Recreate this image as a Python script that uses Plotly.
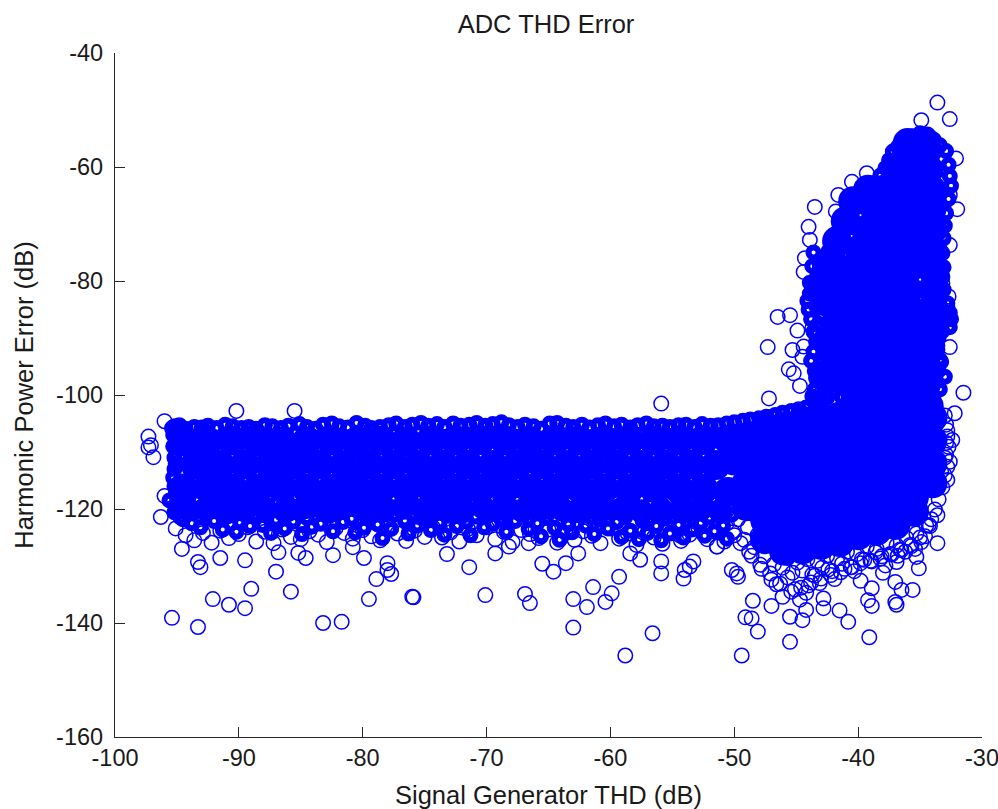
import plotly.graph_objects as go

# Values. The solid mass holds thousands of overlapping
# circles that cannot be told apart, so "solid"/"lower" (filled discs) and
# "crowd" (heavy rings) stand in for it; every circle that can be seen
# individually is in the thin "open" lists.
x_ticks = [-100, -90, -80, -70, -60, -50, -40, -30]
x_labels = ["-100", "-90", "-80", "-70", "-60", "-50", "-40", "-30"]
y_ticks = [-40, -60, -80, -100, -120, -140, -160]
y_labels = ["-40", "-60", "-80", "-100", "-120", "-140", "-160"]

# isolated circles
outlier_x = [-97.3,-97.1,-97.3,-96.9,-96.0,-90.2,-85.5,-96.3,-96.0,-94.6,-93.3,-93.1,-91.5,-89.5,-86.8,-87.0,-85.8,-89.0,-92.1,-90.8,-89.5,-95.4,-93.3,-83.2,-81.7,-79.5,-76.0,-78.9,-77.7,-78.0,-78.0,-82.4,-84.6,-85.2,-80.8,-79.9,
 -55.9,-75.9,-73.2,-71.4,-70.1,-69.3,-68.2,-66.6,-66.9,-66.5,-65.5,-64.6,-63.6,-63.0,-63.0,-61.9,-61.4,-60.4,-59.9,-59.3,-58.8,-56.6,-55.9,-55.9,-54.1,-54.0,-53.3,-53.6,-50.2,-58.4,-57.6,-62.6,-51.4,-54.4,
 -49.4,-45.5,-39.1,-48.1,-49.1,-48.6,-48.5,-49.8,-49.7,-51.4,-47.0,-45.5,-44.5,-44.2,-44.2,-42.8,-42.8,-41.5,-40.8,-39.8,-38.9,-39.2,-38.9,-38.0,-37.0,-37.0,-36.9,-35.6,-36.5,-35.1,-35.3,-36.8,-33.6,-33.6,-34.3,-32.2,-32.4,-32.6,-32.8,
 -33.6,-32.6,-34.9,-31.5,-32.6,-32.6,-32.0,-32.1,-32.6,-43.5,-41.6,-40.5,-39.3,-41.8,-44.0,-43.9,-44.3,-44.4,-46.5,-45.5,-44.9,-43.7,-47.3,-45.3,-44.4,-45.6,-45.2,-44.7,-47.2,-44.5,-32.8,-32.7,-33.2]
outlier_y = [-107.3,-108.8,-109.2,-110.9,-104.6,-102.8,-102.8,-121.4,-117.7,-127.0,-129.3,-130.2,-128.6,-129.0,-127.6,-131.0,-134.5,-134.0,-135.8,-136.8,-137.4,-139.1,-140.7,-140.0,-139.8,-135.8,-135.4,-132.3,-131.4,-129.5,-130.7,-128.1,-128.6,-127.7,-126.7,-128.6,
 -101.5,-135.5,-127.9,-130.2,-135.1,-127.8,-126.6,-126.0,-134.9,-136.5,-129.6,-131.0,-129.5,-135.8,-140.8,-137.2,-133.7,-136.3,-134.8,-131.9,-145.7,-141.8,-131.3,-129.2,-132.2,-130.7,-129.2,-130.1,-130.7,-127.8,-128.9,-127.8,-126.6,-124.6,
 -145.7,-143.3,-142.5,-141.5,-139.0,-139.2,-136.1,-131.3,-131.9,-126.6,-137.0,-138.9,-139.5,-137.7,-134.7,-135.7,-137.4,-137.8,-139.8,-132.6,-133.9,-136.0,-137.0,-131.2,-132.8,-136.3,-136.8,-134.2,-134.2,-130.4,-128.4,-128.2,-126.0,-121.1,-122.8,-103.2,-107.9,-111.7,-114.9,
 -48.7,-51.6,-51.8,-99.6,-91.6,-73.7,-67.4,-58.5,-64.9,-67.0,-64.9,-62.6,-61.1,-67.8,-70.5,-72.8,-76.0,-78.4,-86.3,-86.0,-88.7,-88.3,-91.6,-92.1,-91.5,-95.5,-96.2,-98.4,-100.6,-93.3,-84.5,-82.7,-80.4]

# thin circles along the bottom of the band
low_ring_x = [-95.1,-94.3,-93.6,-92.9,-92.2,-91.5,-90.8,-90.0,-89.3,-88.6,-87.9,-87.2,-86.5,-85.8,-85.0,-84.3,-83.6,-82.9,-82.2,-81.5,-80.8,-80.0,-79.3,-78.6,-77.9,-77.2,-76.5,-75.8,-75.0,-74.3,-73.6,-72.9,-72.2,-71.5,-70.8,-70.0,-69.3,-68.6,-67.9,-67.2,-66.5,-65.8,-65.0,-64.3,-63.6,-62.9,-62.2,-61.5,-60.8,-60.0,-59.3,-58.6,-57.9,-57.2,-56.5,-55.8,-55.0,-54.3,-53.6,-52.9,-52.2,-51.5,-50.8,-50.0]
low_ring_y = [-123.4,-124.6,-125.5,-124.2,-125.9,-123.8,-125.1,-124.4,-123.2,-125.7,-124.0,-126.0,-123.6,-124.9,-125.3,-123.9,-124.5,-125.8,-123.4,-124.2,-125.2,-123.7,-124.8,-125.5,-123.1,-124.3,-125.6,-123.8,-124.9,-123.3,-125.0,-124.1,-125.7,-123.5,-124.6,-123.2,-125.3,-124.0,-125.8,-123.7,-124.4,-125.1,-123.6,-125.9,-124.2,-125.4,-123.9,-124.7,-126.0,-123.4,-125.2,-124.3,-126.3,-123.8,-125.0,-126.1,-124.1,-125.6,-124.5,-123.3,-125.3,-124.0,-125.7,-124.6]

# thin circles along the lower right of the mass
edge_x = [-50.6,-50.1,-49.7,-49.2,-48.9,-48.4,-48.1,-47.6,-47.3,-46.8,-46.5,-46.1,-45.7,-45.3,-44.9,-44.5,-44.1,-43.7,-43.3,-42.9,-42.5,-42.1,-41.7,-41.3,-40.9,-40.5,-40.1,-39.7,-39.3,-38.9,-38.5,-38.1,-37.7,-37.3,-36.9,-36.5,-36.1,-35.7,-35.3,-34.9,-34.5,-34.1,-33.8,-33.5,-33.2,-33.0,-32.8,-32.9,-32.7,-32.8,-32.9,-33.0,-32.8,-32.9,-33.0,-33.3,
 -48.6,-47.8,-47.0,-46.3,-45.4,-44.6,-43.8,-43.0,-42.2,-41.4,-40.6,-39.8,-39.0,-38.2,-37.4,-36.6,-35.8,-35.0,-34.2,
 -49.5,-48.8,-47.9,-47.1,-46.6,-46.1,-45.7,-45.1,-44.7,-44.0,-43.5,-43.1,-42.4,-41.9,-41.1,-40.3,-39.5,-38.6,-37.8,-36.9,-36.2,-35.4,-34.6]
edge_y = [-122.5,-124.1,-121.8,-125.4,-123.2,-126.7,-124.5,-128.3,-125.9,-129.7,-127.2,-130.3,-128.6,-131.2,-129.4,-130.8,-128.8,-131.5,-129.1,-130.3,-128.2,-130.9,-128.7,-129.6,-127.5,-130.2,-127.9,-128.8,-126.6,-129.2,-127.0,-128.3,-125.9,-128.0,-126.4,-127.2,-125.1,-126.5,-124.3,-125.8,-122.9,-121.8,-120.1,-118.3,-116.2,-114.1,-112.6,-110.5,-109.1,-107.3,-105.2,-103.6,-106.2,-108.4,-111.0,-113.4,
 -128.2,-130.5,-132.4,-133.1,-134.5,-133.8,-132.9,-132.2,-131.6,-131.1,-130.2,-129.5,-129.1,-128.7,-127.9,-127.1,-126.3,-125.0,-123.0,
 -126.0,-127.5,-129.8,-131.3,-133.2,-135.4,-132.0,-134.1,-135.9,-133.4,-131.7,-133.0,-130.6,-132.3,-130.5,-130.9,-128.9,-127.6,-129.9,-129.3,-127.5,-127.0,-124.8]

# crowded edge zones: top of band, left end, speckled lower band, upper mass
crowd_top_x = [-95.4,-94.8,-94.3,-93.6,-93.0,-92.5,-91.8,-91.1,-90.5,-89.8,-89.2,-88.6,-87.9,-87.3,-86.6,-86.0,-85.1,-84.5,-83.8,-83.2,-82.5,-81.9,-81.2,-80.5,-79.8,-79.3,-78.6,-77.9,-77.3,-76.6,-76.0,-75.3,-74.7,-74.0,-73.4,-72.7,-72.1,-71.4,-70.8,-70.1,-69.5,-68.8,-68.2,-67.5,-66.9,-66.2,-65.6,-64.9,-64.3,-63.6,-63.0,-62.3,-61.7,-61.0,-60.4,-59.7,-59.1,-58.4,-57.8,-57.1,-56.5,-55.8,-55.2,-54.5,-53.9,-53.2,-52.6,-51.9,-51.3,-50.6,-50.0,-49.3,-48.7,-48.0,-47.4,-46.7,-46.1,-45.4,-44.8,-44.2]
crowd_top_y = [-105.8,-105.3,-105.9,-105.6,-105.7,-105.4,-105.8,-105.2,-105.5,-105.8,-105.6,-105.9,-105.3,-105.5,-105.8,-105.4,-105.1,-105.6,-105.9,-105.2,-105.0,-105.5,-105.7,-104.9,-105.4,-105.8,-105.6,-105.3,-105.0,-105.6,-105.2,-104.9,-105.4,-105.1,-105.6,-105.0,-105.4,-105.2,-104.9,-105.4,-105.1,-104.8,-105.3,-105.6,-105.2,-105.5,-105.9,-105.0,-104.9,-105.4,-105.6,-105.2,-105.7,-105.3,-105.0,-105.5,-105.2,-105.7,-105.3,-105.0,-105.5,-105.4,-105.6,-105.3,-105.2,-105.6,-105.1,-105.4,-105.3,-105.0,-104.8,-104.5,-104.3,-104.1,-103.8,-103.5,-103.1,-102.8,-102.5,-102.2]
crowd_left_x = [-95.3,-95.3,-95.2,-95.2,-95.3,-95.2,-95.1,-95.2,-95.0,-95.1,-94.9,-94.7,-95.1,-94.6]
crowd_left_y = [-107.0,-109.0,-111.0,-113.0,-114.5,-116.0,-117.5,-105.5,-119.0,-120.2,-118.3,-121.5,-112.0,-120.4]
crowd_low_x = [-95.6,-95.2,-94.9,-94.5,-94.1,-93.8,-93.4,-93.1,-92.7,-92.4,-92.0,-91.6,-91.3,-90.9,-90.6,-90.2,-89.9,-89.5,-89.1,-88.8,-88.4,-88.1,-87.7,-87.4,-87.0,-86.6,-86.3,-85.9,-85.6,-85.2,-84.9,-84.5,-84.1,-83.8,-83.4,-83.1,-82.7,-82.4,-82.0,-81.6,-81.3,-80.9,-80.6,-80.2,-79.9,-79.5,-79.1,-78.8,-78.4,-78.1,-77.7,-77.4,-77.0,-76.6,-76.3,-75.9,-75.6,-75.2,-74.9,-74.5,-74.1,-73.8,-73.4,-73.1,-72.7,-72.4,-72.0,-71.6,-71.3,-70.9,-70.6,-70.2,-69.9,-69.5,-69.1,-68.8,-68.4,-68.1,-67.7,-67.4,-67.0,-66.6,-66.3,-65.9,-65.6,-65.2,-64.9,-64.5,-64.1,-63.8,-63.4,-63.1,-62.7,-62.4,-62.0,-61.6,-61.3,-60.9,-60.6,-60.2,-59.9,-59.5,-59.1,-58.8,-58.4,-58.1,-57.7,-57.4,-57.0,-56.6,-56.3,-55.9,-55.6,-55.2,-54.9,-54.5,-54.1,-53.8,-53.4,-53.1,-52.7,-52.4,-52.0,-51.6,-51.3,-50.9,-50.6,-50.2,
 -94.7,-93.3,-91.9,-90.4,-89.0,-87.6,-86.1,-84.7,-83.3,-81.8,-80.4,-79.0,-77.5,-76.1,-74.7,-73.2,-71.8,-70.4,-68.9,-67.5,-66.1,-64.6,-63.2,-61.8,-60.3,-58.9,-57.5,-56.0,-54.6,-53.2,-51.7]
crowd_low_y = [-118.5,-120.6,-119.2,-121.8,-119.9,-122.5,-120.3,-123.2,-120.9,-119.6,-122.1,-120.2,-123.6,-121.3,-119.4,-124.0,-122.4,-120.1,-123.0,-121.1,-119.7,-122.8,-120.6,-124.2,-121.9,-119.9,-123.4,-120.8,-122.2,-119.5,-124.4,-121.6,-123.1,-120.0,-122.6,-119.8,-121.2,-123.9,-120.4,-122.3,-119.6,-121.7,-124.1,-120.7,-123.3,-121.4,-119.9,-122.7,-125.1,-120.5,-123.5,-121.0,-119.7,-122.0,-124.3,-120.9,-122.9,-119.5,-121.5,-123.7,-120.3,-122.4,-124.5,-121.2,-119.8,-123.0,-120.6,-122.2,-124.6,-121.3,-119.9,-123.2,-120.8,-122.6,-119.6,-121.8,-124.0,-120.2,-122.1,-119.7,-121.0,-123.5,-120.4,-122.5,-124.8,-121.6,-119.8,-123.3,-125.4,-120.9,-122.7,-124.1,-121.1,-119.6,-122.9,-120.5,-124.4,-121.9,-119.9,-123.4,-120.7,-122.3,-124.9,-121.4,-123.8,-120.1,-125.3,-122.1,-124.2,-120.6,-123.0,-125.5,-121.7,-124.3,-120.3,-122.8,-125.0,-121.2,-123.6,-120.8,-122.4,-124.7,-121.5,-123.9,-120.2,-122.9,-125.2,-121.0,
 -117.9,-118.4,-118.1,-118.6,-118.2,-118.0,-118.5,-118.3,-117.9,-118.6,-118.1,-118.4,-118.0,-118.5,-118.2,-117.9,-118.6,-118.3,-118.1,-118.4,-118.0,-118.5,-118.2,-117.9,-118.6,-118.3,-118.1,-118.4,-118.0,-118.5,-118.2]
crowd_upper_x = [-35.6,-35.0,-34.4,-33.9,-33.4,-36.3,-36.8,-37.2,-37.5,-37.8,-38.2,-38.6,-39.0,-39.6,-40.0,-40.3,-40.7,-41.1,-41.4,-41.7,-42.0,-42.4,-42.8,-43.1,-43.3,-43.6,-43.9,-44.1,-44.0,-43.8,-43.6,-43.4,-43.6,-43.8,-43.5,-43.3,-43.5,-43.7,-43.4,-43.2,-43.0,-42.8,-43.2,-43.0,-42.7,-42.4,-42.1,-41.9,-42.3,-42.0,-41.8,-41.5,-41.3,-41.6,-41.2,-40.9,-41.1,-40.7,-40.4,-42.6,-42.2,-41.7,-41.4,-41.0,-40.6,-40.3,-40.8,-40.2,-39.9,-39.6,-39.3,-40.5,-40.1,-39.7,-39.4,
 -32.9,-32.7,-32.6,-32.5,-32.7,-32.9,-33.0,-33.1,-33.2,-33.1,-33.2,-33.1,-33.4,-33.2,-32.8,-32.6,-32.5,-32.6,-32.9,-33.3,-33.5,-33.6,-33.4,-33.5,-33.7,-33.4,-33.2,-33.6,-33.3,-33.0,
 -43.9,-43.5,-43.2,-43.7,-43.3,-43.0,-42.8,-43.6,-43.1,-42.9,-42.6,-43.4,-42.9,-42.5,-42.2,-43.0,-42.4,-42.0,-41.7,-41.5,-43.4,-42.7,-42.3,-41.9,-43.5,-43.1,-42.5,-42.0]
crowd_upper_y = [-54.6,-54.1,-54.3,-55.2,-56.2,-56.0,-56.5,-57.3,-58.8,-60.2,-61.5,-62.8,-63.9,-64.7,-66.0,-66.8,-68.0,-69.4,-70.6,-71.7,-73.2,-74.8,-76.2,-77.7,-79.3,-80.8,-82.2,-83.5,-85.0,-86.7,-88.9,-90.6,-92.4,-94.0,-95.8,-97.5,-99.0,-100.2,-84.4,-87.5,-90.1,-92.8,-95.3,-97.9,-99.6,-82.9,-85.8,-88.2,-91.0,-93.6,-96.4,-98.6,-100.4,-79.5,-81.6,-83.3,-87.0,-89.4,-91.7,-76.6,-78.3,-74.1,-76.9,-79.8,-72.2,-74.4,-85.4,-87.9,-90.6,-93.2,-95.6,-94.4,-97.0,-99.0,-100.6,
 -57.2,-59.6,-61.6,-63.3,-65.6,-68.1,-70.3,-72.5,-75.1,-77.6,-79.3,-81.5,-83.2,-85.0,-83.9,-85.6,-86.7,-88.1,-86.0,-87.9,-89.9,-92.0,-93.8,-95.7,-97.6,-99.0,-88.8,-91.3,-94.2,-96.8,
 -80.3,-81.9,-84.1,-77.4,-79.6,-82.0,-84.6,-75.0,-77.1,-79.0,-81.3,-89.2,-91.6,-93.4,-95.2,-86.4,-88.7,-90.8,-93.0,-95.0,-97.0,-98.3,-96.0,-94.2,-100.9,-101.2,-100.5,-99.2]

# stand-in discs for the solid interior
solid_x = [-94.5,-92.5,-90.5,-88.5,-86.5,-84.5,-82.5,-80.5,-78.5,-76.5,-74.5,-72.5,-70.5,-68.5,-66.5,-64.5,-62.5,-60.5,-58.5,-56.5,-54.5,-52.5,-50.5,
 -93.5,-91.5,-89.5,-87.5,-85.5,-83.5,-81.5,-79.5,-77.5,-75.5,-73.5,-71.5,-69.5,-67.5,-65.5,-63.5,-61.5,-59.5,-57.5,-55.5,-53.5,-51.5,-50.0,
 -94.5,-92.5,-90.5,-88.5,-86.5,-84.5,-82.5,-80.5,-78.5,-76.5,-74.5,-72.5,-70.5,-68.5,-66.5,-64.5,-62.5,-60.5,-58.5,-56.5,-54.5,-52.5,-50.5,
 -49.0,-49.0,-49.0,-49.0,
 -47.5,-47.5,-47.5,-47.5,-47.5,-47.5,
 -46.0,-46.0,-46.0,-46.0,-46.0,-46.0,-46.0,
 -44.5,-44.5,-44.5,-44.5,-44.5,-44.5,-44.5,
 -43.0,-43.0,-43.0,-43.0,-43.0,-43.0,-43.0,
 -41.5,-41.5,-41.5,-41.5,-41.5,-41.5,-41.5,
 -40.0,-40.0,-40.0,-40.0,-40.0,-40.0,-40.0,
 -38.5,-38.5,-38.5,-38.5,-38.5,-38.5,-38.5,
 -37.0,-37.0,-37.0,-37.0,-37.0,-37.0,-37.0,
 -35.5,-35.5,-35.5,-35.5,-35.5,-35.5,
 -34.0,-34.0,-34.0,-34.0,
 -35.6,-34.4,-37.0,-35.7,-34.3,-37.9,-36.6,-35.3,-34.1,-38.6,-37.2,-35.8,-34.1,-39.3,-38.0,-36.6,-35.3,-34.0,-39.9,-38.5,-37.1,-35.7,-34.0,-40.4,-38.8,-37.4,-36.0,-34.0,-40.4,-38.8,-37.4,-36.0,-34.0,-40.2,-38.6,-37.2,-35.8,-34.0,-40.2,-38.6,-37.2,-35.6,-34.3,-40.2,-38.6,-37.2,-35.8,-34.5,-40.2,-38.6,-37.2,-35.8,-34.5,-40.2,-38.6,-37.2,-35.8,-34.5,-40.2,-38.6,-37.2,-35.8,-34.5,-40.2,-38.6,-37.0,-35.6,-34.3,
 -41.8,-41.8,-41.8,-41.8,-42.0,-42.0,-41.7,-41.0,-40.4,-39.2,-36.0,-34.5]
solid_y = [-108.1,-108.2,-108.0,-108.1,-108.2,-108.1,-108.0,-108.2,-108.0,-108.1,-108.0,-108.0,-107.9,-108.0,-108.1,-108.0,-108.0,-108.1,-108.0,-108.0,-108.0,-107.9,-107.8,
 -112.2,-112.3,-112.2,-112.3,-112.2,-112.2,-112.3,-112.2,-112.2,-112.3,-112.2,-112.2,-112.3,-112.2,-112.2,-112.3,-112.2,-112.2,-112.3,-112.2,-112.2,-112.3,-111.5,
 -116.4,-116.3,-116.4,-116.5,-116.3,-116.4,-116.5,-116.3,-116.4,-116.5,-116.3,-116.4,-116.4,-116.3,-116.5,-116.4,-116.3,-116.4,-116.5,-116.3,-116.4,-116.5,-117.0,
 -107.5,-111.5,-115.5,-119.5,
 -106.0,-110.0,-114.0,-118.0,-122.0,-125.3,
 -105.5,-109.5,-113.5,-117.5,-121.5,-125.0,-127.3,
 -104.5,-108.5,-112.5,-116.5,-120.5,-124.5,-127.1,
 -104.0,-108.0,-112.0,-116.0,-120.0,-124.0,-126.3,
 -103.8,-107.8,-111.8,-115.8,-119.8,-123.5,-125.8,
 -103.5,-107.5,-111.5,-115.5,-119.5,-122.5,-124.6,
 -103.5,-107.5,-111.5,-115.5,-119.0,-121.8,-123.8,
 -103.5,-107.5,-111.5,-115.5,-118.5,-120.9,-122.8,
 -103.5,-107.5,-111.5,-115.0,-118.0,-120.5,
 -104.0,-108.0,-112.0,-115.5,
 -57.2,-57.0,-60.5,-60.5,-60.5,-64.0,-64.0,-64.0,-64.0,-67.5,-67.5,-67.5,-67.5,-71.0,-71.0,-71.0,-71.0,-71.0,-74.5,-74.5,-74.5,-74.5,-74.5,-78.0,-78.0,-78.0,-78.0,-78.0,-81.5,-81.5,-81.5,-81.5,-81.5,-85.0,-85.0,-85.0,-85.0,-85.0,-88.5,-88.5,-88.5,-88.5,-88.5,-92.0,-92.0,-92.0,-92.0,-92.0,-95.0,-95.0,-95.0,-95.0,-95.0,-98.0,-98.0,-98.0,-98.0,-98.0,-100.5,-100.5,-100.5,-100.5,-100.5,-102.0,-102.0,-102.0,-102.0,-102.0,
 -97.0,-93.0,-89.0,-85.0,-81.0,-77.0,-73.0,-69.5,-66.0,-64.0,-55.8,-55.8]

# smaller discs that carry the solid part down into the speckled zone
lower_x = [-94.3,-92.7,-91.1,-89.5,-87.9,-86.3,-84.7,-83.1,-81.5,-79.9,-78.3,-76.7,-75.1,-73.5,-71.9,-70.3,-68.7,-67.1,-65.5,-63.9,-62.3,-60.7,-59.1,-57.5,-55.9,-54.3,-52.7,-51.1]
lower_y = [-119.5,-120.0,-119.8,-120.2,-119.9,-120.3,-119.7,-120.1,-119.6,-120.0,-120.3,-119.8,-120.1,-119.9,-120.2,-119.7,-120.0,-120.3,-119.9,-120.1,-119.8,-120.2,-120.0,-120.4,-120.1,-120.3,-120.0,-120.5]

BLUE = "#0000ff"
open_x = outlier_x + low_ring_x + edge_x
open_y = outlier_y + low_ring_y + edge_y
crowd_x = crowd_top_x + crowd_left_x + crowd_low_x + crowd_upper_x
crowd_y = crowd_top_y + crowd_left_y + crowd_low_y + crowd_upper_y

fig = go.Figure()
fig.add_trace(go.Scatter(x=solid_x, y=solid_y, mode="markers", hoverinfo="skip",
                         marker=dict(symbol="circle", size=30, color=BLUE, line=dict(width=0))))
fig.add_trace(go.Scatter(x=lower_x, y=lower_y, mode="markers", hoverinfo="skip",
                         marker=dict(symbol="circle", size=24, color=BLUE, line=dict(width=0))))
fig.add_trace(go.Scatter(x=crowd_x, y=crowd_y, mode="markers", hoverinfo="skip",
                         marker=dict(symbol="circle-open", size=10, color=BLUE, line=dict(width=6, color=BLUE))))
fig.add_trace(go.Scatter(x=open_x, y=open_y, mode="markers",
                         marker=dict(symbol="circle-open", size=14.5, color=BLUE, line=dict(width=1.5, color=BLUE))))

font = "Liberation Sans, Arial, sans-serif"
ink = "#1a1a1a"
axis = dict(showgrid=False, zeroline=False, showline=True, linecolor="#262626", linewidth=1.3,
            ticks="inside", ticklen=10, tickwidth=1.3, tickcolor="#262626", mirror=False,
            tickmode="array", ticklabeloverflow="allow", automargin=False,
            title_font=dict(size=25.5, family=font, color=ink),
            tickfont=dict(size=23.5, family=font, color=ink))
fig.update_layout(
    width=998, height=809, autosize=False, showlegend=False,
    paper_bgcolor="white", plot_bgcolor="white",
    margin=dict(l=114.5, r=16, t=53, b=71.5),
    title=dict(text="ADC THD Error", x=546 / 998, xanchor="center", xref="container",
               y=1 - 24 / 809, yanchor="middle", yref="container",
               font=dict(size=25.5, family=font, color=ink)),
    xaxis=dict(axis, range=[-100, -30], tickvals=x_ticks, ticktext=x_labels,
               title=dict(text="Signal Generator THD (dB)", standoff=16)),
    yaxis=dict(axis, range=[-160, -40], tickvals=y_ticks, ticktext=y_labels, ticklabelstandoff=6,
               title=dict(text="Harmonic Power Error (dB)", standoff=15)),
)
# remove the page body's default 8 px margin so the figure fills the window exactly
fig.write_html("out.html", config={"displayModeBar": False},
               post_script="document.body.style.margin='0';document.documentElement.style.overflow='hidden';")
